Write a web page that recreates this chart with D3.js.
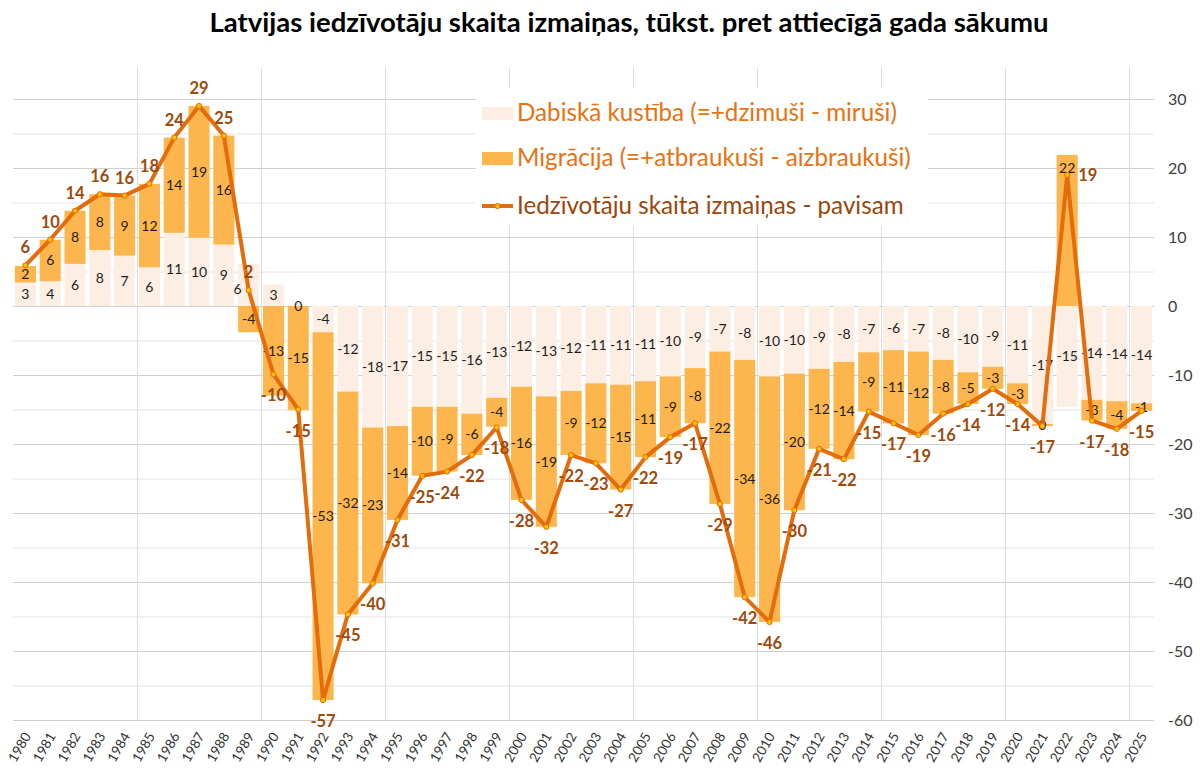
<!DOCTYPE html>
<html><head><meta charset="utf-8">
<script src="https://cdn.jsdelivr.net/npm/d3@7"></script>
<style>
body{margin:0;background:#fff;}
svg{display:block;font-family:Lato,"Open Sans",sans-serif;}
</style>
</head><body>
<svg id="chart" width="1200" height="772"></svg>
<script>
const titleText = "Latvijas iedzīvotāju skaita izmaiņas, tūkst. pret attiecīgā gada sākumu";
const years = ["1980","1981","1982","1983","1984","1985","1986","1987","1988","1989",
  "1990","1991","1992","1993","1994","1995","1996","1997","1998","1999",
  "2000","2001","2002","2003","2004","2005","2006","2007","2008","2009",
  "2010","2011","2012","2013","2014","2015","2016","2017","2018","2019",
  "2020","2021","2022","2023","2024","2025"];
const natural = [3.4,3.6,6.1,8.1,7.3,5.6,10.6,9.9,8.9,6.1,
  3.1,0.1,-3.8,-12.4,-17.6,-17.4,-14.6,-14.6,-15.6,-13.3,
  -11.7,-13.1,-12.3,-11.2,-11.4,-10.9,-10.2,-9.0,-6.6,-7.8,
  -10.2,-9.8,-9.1,-8.1,-6.7,-6.4,-6.6,-7.8,-9.6,-8.8,
  -11.2,-17.1,-14.6,-13.6,-13.8,-14.1];
const migration = [2.4,6.0,7.7,8.1,8.7,12.1,13.8,19.1,15.8,-3.8,
  -13.0,-15.1,-53.3,-32.3,-22.6,-13.6,-10.0,-9.4,-6.0,-4.2,
  -16.4,-18.9,-9.3,-11.6,-15.2,-11.0,-8.8,-8.0,-22.1,-34.4,
  -35.6,-19.8,-11.6,-14.1,-8.6,-10.6,-12.1,-7.8,-4.6,-3.2,
  -3.0,-0.3,21.9,-3.0,-4.0,-1.1];
const total = [5.9,9.6,13.8,16.2,16.0,17.7,24.4,29.0,24.7,2.3,
  -9.9,-15.0,-57.1,-44.7,-40.2,-31.0,-24.6,-24.0,-21.6,-17.6,
  -28.1,-32.0,-21.6,-22.8,-26.6,-21.9,-19.0,-17.0,-28.7,-42.2,
  -45.8,-29.6,-20.7,-22.2,-15.3,-17.0,-18.7,-15.6,-14.2,-12.0,
  -14.2,-17.4,19.0,-16.6,-17.8,-15.2];
const yTickValues = [30,20,10,0,-10,-20,-30,-40,-50,-60];
const seriesNames = ["Dabiskā kustība (=+dzimuši - miruši)",
  "Migrācija (=+atbraukuši - aizbraukuši)",
  "Iedzīvotāju skaita izmaiņas - pavisam"];

// layout / style (not data)
const C = {nat:"#fdeee3", mig:"#fdb64e", line:"#e46c0a", marker:"#ffc000",
  totLabel:"#a04a0c", legText:"#e8720f", legText3:"#9c460a", seg:"#1e1e1e"};
const labelOverride = {"2022": {mig:"top", tot:"right"}, "1989": {nat:"left"}};

const svg = d3.select("#chart");
const x = d3.scaleBand().domain(years).range([13,1154]).paddingInner(0.15).paddingOuter(0.075);
const y = d3.scaleLinear().domain([-60,30]).range([720,99]);
const fmt = v => { const r = Math.round(v); return String(r === 0 ? 0 : r); };

// title
svg.append("text").attr("x",629).attr("y",32).attr("text-anchor","middle")
  .attr("font-size",27.5).attr("font-weight",700).attr("fill","#000").text(titleText);

// gridlines
const g = svg.append("g");
const minor = d3.range(-60,31,5);
g.selectAll("line.h").data(minor).join("line")
  .attr("x1",13).attr("x2",1154).attr("y1",d=>y(d)+0.5).attr("y2",d=>y(d)+0.5)
  .attr("stroke",d=>d%10===0?"#d0d0d0":"#e4e4e4").attr("stroke-width",1);
const step = x.step();
const vIdx = d3.range(5,46,5);
g.selectAll("line.v").data(vIdx).join("line")
  .attr("x1",i=>Math.round(x(years[i]) - step*x.paddingInner()/2)+0.5)
  .attr("x2",i=>Math.round(x(years[i]) - step*x.paddingInner()/2)+0.5)
  .attr("y1",68).attr("y2",720).attr("stroke","#dddddd");

// stacked bars
const rows = years.map((yr,i)=>({year:yr, natural:natural[i], migration:migration[i]}));
const stack = d3.stack().keys(["natural","migration"]).offset(d3.stackOffsetDiverging);
const series = stack(rows);
const colors = {natural:C.nat, migration:C.mig};
series.forEach(s=>{
  svg.append("g").selectAll("rect").data(s).join("rect")
    .attr("x",d=>x(d.data.year)).attr("width",x.bandwidth())
    .attr("y",d=>y(Math.max(d[0],d[1]))).attr("height",d=>Math.abs(y(d[0])-y(d[1])))
    .attr("fill",colors[s.key]);
});

// segment labels
series.forEach(s=>{
  svg.append("g").selectAll("text").data(s).join("text")
    .attr("x",d=>{
      const ov = labelOverride[d.data.year];
      const cx = x(d.data.year)+x.bandwidth()/2;
      if (s.key==="natural" && ov && ov.nat==="left") return cx-11;
      return cx;
    })
    .attr("y",d=>{
      const ov = labelOverride[d.data.year];
      if (s.key==="migration" && ov && ov.mig==="top") return y(Math.max(d[0],d[1]))+18;
      if (s.key==="natural" && ov && ov.nat==="left") return y((d[0]+d[1])/2)+9;
      return y((d[0]+d[1])/2)+5;
    })
    .attr("text-anchor","middle").attr("font-size",14).attr("fill",C.seg)
    .text(d=>fmt(d.data[s.key]));
});

// line
const pts = years.map((yr,i)=>({year:yr, v:total[i]}));
const line = d3.line().x(d=>x(d.year)+x.bandwidth()/2).y(d=>y(d.v));
svg.append("path").datum(pts).attr("d",line).attr("fill","none")
  .attr("stroke",C.line).attr("stroke-width",4).attr("stroke-linejoin","round");
svg.append("g").selectAll("circle").data(pts).join("circle")
  .attr("cx",d=>x(d.year)+x.bandwidth()/2).attr("cy",d=>y(d.v)).attr("r",2.6)
  .attr("fill",C.marker).attr("stroke",C.line).attr("stroke-width",1);

// total labels
svg.append("g").selectAll("text").data(pts).join("text")
  .attr("x",d=>{
    const ov = labelOverride[d.year];
    const cx = x(d.year)+x.bandwidth()/2;
    return (ov && ov.tot==="right") ? cx+11 : cx;
  })
  .attr("y",d=>{
    const ov = labelOverride[d.year];
    if (ov && ov.tot==="right") return y(d.v)+6;
    return d.v>=0 ? y(d.v)-12 : y(d.v)+27;
  })
  .attr("text-anchor",d=>{const ov=labelOverride[d.year]; return (ov&&ov.tot==="right")?"start":"middle";})
  .attr("font-size",16.5).attr("font-weight",700).attr("fill",C.totLabel)
  .text(d=>fmt(d.v));

// right axis
const yAxis = d3.axisRight(y).tickValues(yTickValues).tickSize(0).tickPadding(0);
svg.append("g").attr("transform","translate(1168,0)").call(yAxis)
  .call(a=>a.select(".domain").remove())
  .call(a=>a.selectAll("text").attr("font-size",16).attr("fill","#404040")
    .attr("font-family","Lato,'Open Sans',sans-serif").text(d=>String(d)));

// x axis labels (rotated)
const xAxis = d3.axisBottom(x).tickSize(0).tickPadding(0);
svg.append("g").attr("transform","translate(0,724)").call(xAxis)
  .call(a=>a.select(".domain").remove())
  .call(a=>a.selectAll("text").attr("font-size",13.5).attr("fill","#303030")
    .attr("font-family","Lato,'Open Sans',sans-serif")
    .attr("text-anchor","end").attr("dy","0").attr("dx","0")
    .attr("transform","translate(6,12) rotate(-60)"));

// legend
const leg = svg.append("g");
leg.append("rect").attr("x",476).attr("y",88).attr("width",452).attr("height",138).attr("fill","#fff");
const ly = [113,158,206];
leg.append("rect").attr("x",482).attr("y",ly[0]-6).attr("width",31).attr("height",13).attr("fill",C.nat);
leg.append("rect").attr("x",482).attr("y",ly[1]-6).attr("width",31).attr("height",13).attr("fill",C.mig);
leg.append("line").attr("x1",482).attr("x2",513).attr("y1",ly[2]).attr("y2",ly[2])
  .attr("stroke",C.line).attr("stroke-width",4);
leg.append("circle").attr("cx",497.5).attr("cy",ly[2]).attr("r",2.6)
  .attr("fill",C.marker).attr("stroke",C.line).attr("stroke-width",1);
leg.selectAll("text").data(seriesNames).join("text")
  .attr("x",517).attr("y",(d,i)=>ly[i]+8)
  .attr("font-size",24.2).attr("fill",(d,i)=>i<2?C.legText:C.legText3).text(d=>d);
</script>
</body></html>
